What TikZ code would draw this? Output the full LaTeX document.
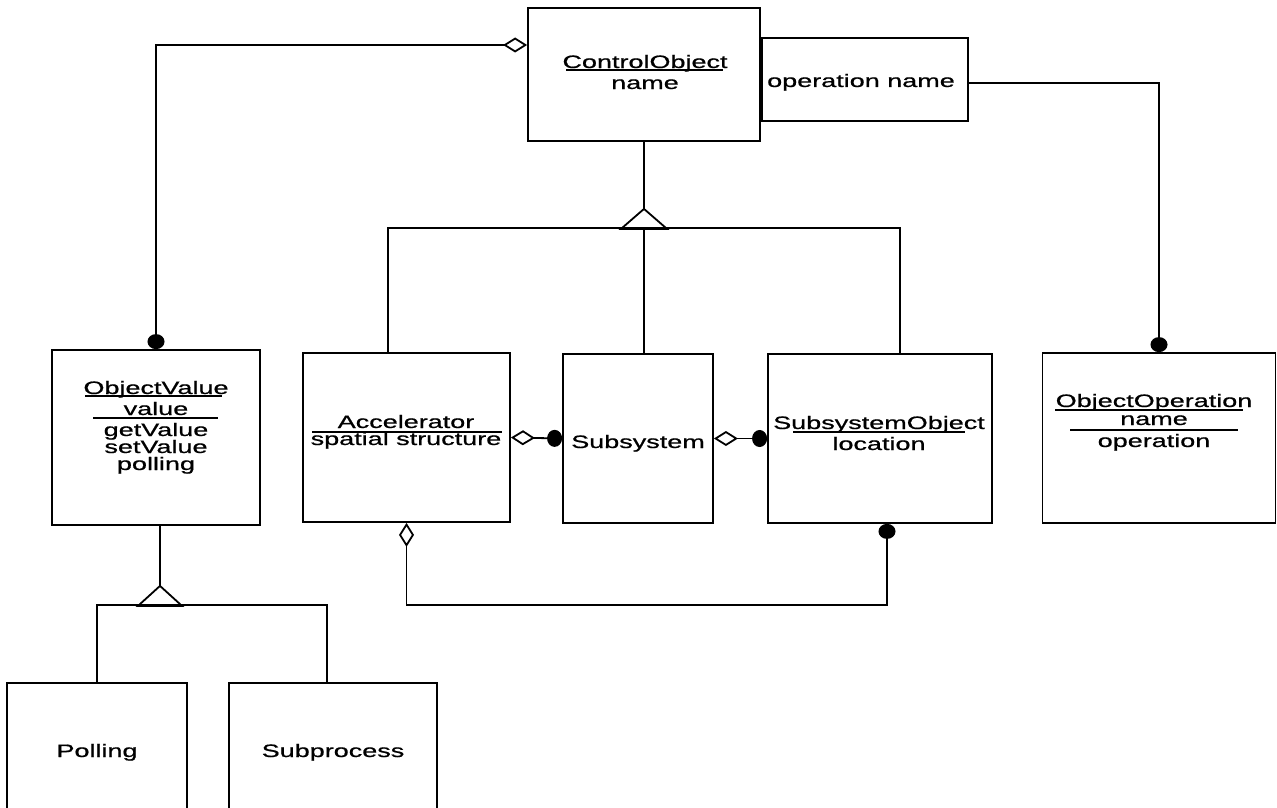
\documentclass[tikz,border=0pt]{standalone}
\usepackage{fontspec}
\setmainfont{Liberation Sans}[FakeStretch=1.5, FakeBold=0.8]
\usetikzlibrary{arrows.meta}
\begin{document}
\begin{tikzpicture}[x=1pt,y=-1pt,
  box/.style={draw, line width=1.8pt, rectangle, inner sep=0pt, fill=white},
  txt/.style={inner sep=0pt, anchor=base, font=\fontsize{18}{21}\selectfont},
  conn/.style={line width=1.8pt, line join=miter},
  ul/.style={line width=1.3pt},
  agg/.style={conn, {Diamond[open, length=24pt, width=15pt]}-{Circle[length=15pt, width=17pt]}},
  dotend/.style={conn, -{Circle[length=15pt, width=17pt]}}]
\useasboundingbox (0,0) rectangle (1277,808);
\clip (0,0) rectangle (1277,808);
\fill[white] (0,0) rectangle (1277,808);
% boxes
\node[box, minimum width=232pt, minimum height=133pt] (co) at (644,74.5) {};
\node[box, minimum width=206pt, minimum height=83pt, anchor=west] (opn) at (co.east |- 0,79.5) {};
\node[box, minimum width=208pt, minimum height=175pt] (ov) at (156,437.5) {};
\node[box, minimum width=207pt, minimum height=169pt] (acc) at (406.5,437.5) {};
\node[box, minimum width=150pt, minimum height=169pt] (sub) at (638,438.5) {};
\node[box, minimum width=224pt, minimum height=169pt] (so) at (880,438.5) {};
\node[box, minimum width=233pt, minimum height=170pt] (oo) at (1159,438) {};
\node[box, minimum width=180pt, minimum height=150pt] (pol) at (97,758) {};
\node[box, minimum width=208pt, minimum height=150pt] (spr) at (333,758) {};
% texts
\node[txt] (tco1) at (645,68) {ControlObject};
\node[txt] (tco2) at (645,89) {name};
\node[txt] (topn) at (861,87) {operation name};
\node[txt] (tov1) at (156,394) {ObjectValue};
\node[txt] (tov2) at (156,415) {value};
\node[txt] (tov3) at (156,436) {getValue};
\node[txt] (tov4) at (156,453) {setValue};
\node[txt] (tov5) at (156,470) {polling};
\node[txt] (tac1) at (406,428) {Accelerator};
\node[txt] (tac2) at (406,445) {spatial structure};
\node[txt] (tsub) at (638,448) {Subsystem};
\node[txt] (tso1) at (879,429) {SubsystemObject};
\node[txt] (tso2) at (879,450) {location};
\node[txt] (too1) at (1154,407) {ObjectOperation};
\node[txt] (too2) at (1154,425) {name};
\node[txt] (too3) at (1154,447) {operation};
\node[txt] (tpol) at (97,757) {Polling};
\node[txt] (tspr) at (333,757) {Subprocess};
% underlines
\draw[ul] (566,70) -- (723,70);
\draw[ul] (85,396) -- (222,396);
\draw[ul] (93,418) -- (218,418);
\draw[ul] (312,432) -- (502,432);
\draw[ul] (793,432) -- (965,432);
\draw[ul] (1055,410) -- (1243,410);
\draw[ul] (1070,430) -- (1238,430);
% coordinates
\coordinate (k1) at (155,45);
\coordinate (k2) at (966,83);
\coordinate (bL) at (388,228);
\coordinate (bR) at (900,228);
\coordinate (cL) at (97,605);
\coordinate (cR) at (327,605);
% aggregation connectors
\draw[agg] (co.west |- k1) -| (ov.north);
\draw[dotend] (opn.east |- k2) -| (oo.north);
\draw[agg] (acc.east) -- (sub.west);
\draw[agg] (sub.east) -- (so.west);
\draw[agg] (acc.south) -- ++(0,82) -| ([xshift=7pt]so.south);
% generalization ControlObject
\draw[conn] (co.south) -- ++(0,67) coordinate (ga);
\draw[conn] (ga) -- ++(-23,20) -- ++(46,0) -- cycle;
\draw[conn] (bL |- acc.north) -- (bL) -- (bR) -- (bR |- so.north);
\draw[conn] (ga) ++(0,20) -- (ga |- sub.north);
% generalization ObjectValue
\draw[conn] ([xshift=4pt]ov.south) -- ++(0,60) coordinate (gb);
\draw[conn] (gb) -- ++(-22,20) -- ++(44,0) -- cycle;
\draw[conn] (cL |- pol.north) -- (cL) -- (cR) -- (cR |- spr.north);
\end{tikzpicture}
\end{document}
